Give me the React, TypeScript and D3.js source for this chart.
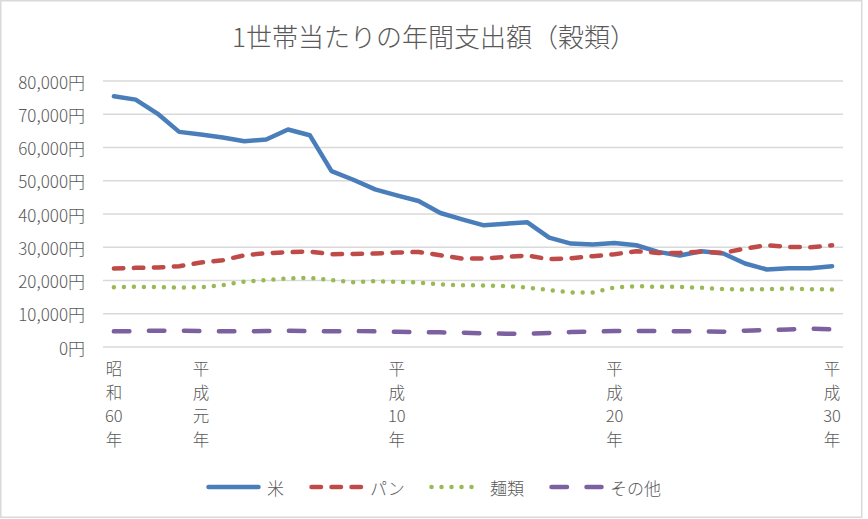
import React from "react";
import * as d3 from "d3";

const categories = [
  "昭和60年", "昭和61年", "昭和62年", "昭和63年", "平成元年", "平成2年", "平成3年", "平成4年",
  "平成5年", "平成6年", "平成7年", "平成8年", "平成9年", "平成10年", "平成11年", "平成12年",
  "平成13年", "平成14年", "平成15年", "平成16年", "平成17年", "平成18年", "平成19年", "平成20年",
  "平成21年", "平成22年", "平成23年", "平成24年", "平成25年", "平成26年", "平成27年", "平成28年",
  "平成29年", "平成30年",
];

const tickCategories = ["昭和60年", "平成元年", "平成10年", "平成20年", "平成30年"];

const riceValues = [
  75400, 74400, 70200, 64700, 63900, 63000, 61900, 62400, 65400, 63700, 52900, 50300,
  47400, 45600, 43900, 40300, 38400, 36600, 37100, 37500, 32900, 31100, 30800, 31300,
  30600, 28600, 27500, 28800, 28100, 25100, 23300, 23700, 23700, 24300,
];
const breadValues = [
  23600, 23800, 23900, 24300, 25400, 26100, 27600, 28200, 28500, 28700, 27900, 28000,
  28100, 28400, 28600, 27600, 26600, 26600, 27100, 27500, 26400, 26700, 27300, 27900,
  28800, 28300, 28300, 28700, 28300, 29600, 30600, 30100, 30000, 30600,
];
const noodleValues = [
  18000, 18100, 18000, 17900, 18000, 18600, 19700, 20100, 20600, 20800, 20100, 19500,
  19800, 19600, 19400, 18800, 18600, 18500, 18300, 17900, 17100, 16400, 16400, 17900,
  18300, 18100, 18100, 17800, 17400, 17300, 17400, 17600, 17400, 17300,
];
const otherValues = [
  4700, 4800, 4900, 4900, 4800, 4700, 4700, 4800, 4900, 4800, 4700, 4800,
  4700, 4600, 4500, 4400, 4300, 4100, 4000, 4000, 4200, 4500, 4600, 4800,
  4800, 4800, 4700, 4700, 4600, 4900, 5100, 5300, 5500, 5300,
];

const yTicks = [0, 10000, 20000, 30000, 40000, 50000, 60000, 70000, 80000];

const series = [
  { name: "米", values: riceValues, color: "#4A7EBB", dash: "none" },
  { name: "パン", values: breadValues, color: "#BE4B48", dash: "9.5 10.5" },
  { name: "麺類", values: noodleValues, color: "#98B954", dash: "0 10" },
  { name: "その他", values: otherValues, color: "#7D60A0", dash: "15.5 19.5" },
];

const W = 868;
const H = 519;
const FONT = "'Noto Sans CJK JP', 'Noto Sans', sans-serif";
const TEXT = "#595959";

// 昭和60年 -> 昭 / 和 / 60 / 年
const splitVertical = (s: string) => s.match(/[0-9]+|./g) || [];

export default function App() {
  const margin = { top: 81, right: 25, bottom: 172, left: 103 };

  const x = d3.scaleBand<string>()
    .domain(categories)
    .range([margin.left, W - margin.right]);
  const y = d3.scaleLinear()
    .domain([0, 80000])
    .range([H - margin.bottom, margin.top]);

  const line = d3.line<number>()
    .x((_, i) => x(categories[i])! + x.bandwidth() / 2)
    .y(d => y(d));

  const fmt = d3.format(",");

  // legend layout
  const legendLine = 55;
  const legendGap = 24;
  const legendFont = 17;
  const itemWidths = series.map(s => legendLine + 7 + s.name.length * legendFont);
  const legendTotal = d3.sum(itemWidths) + legendGap * (series.length - 1);
  let lx = W / 2 - legendTotal / 2;
  const legendItems = series.map((s, i) => {
    const item = { ...s, x: lx };
    lx += itemWidths[i] + legendGap;
    return item;
  });

  return (
    <>
      <style>{`body{margin:0}`}</style>
      <svg width={W} height={H} style={{ display: "block", fontFamily: FONT, fontWeight: 300 }}>
        <rect x={0} y={0} width={W} height={H} fill="#fff" />
        <rect x={0.75} y={0.75} width={861} height={516.5} fill="none" stroke="#d9d9d9" strokeWidth={1.5} />

        <text x={434} y={35} textAnchor="middle" dominantBaseline="central"
          fontSize={26} fill={TEXT}>1世帯当たりの年間支出額（穀類）</text>

        {yTicks.map(t => (
          <g key={t}>
            <line x1={margin.left} x2={W - margin.right} y1={y(t)} y2={y(t)}
              stroke="#d9d9d9" strokeWidth={1.5} />
            <text x={85} y={y(t)} textAnchor="end" dominantBaseline="central"
              fontSize={17} fill={TEXT}>{fmt(t)}円</text>
          </g>
        ))}

        {tickCategories.map(c => (
          <text key={c} fontSize={16.5} fill={TEXT} textAnchor="middle">
            {splitVertical(c).map((part, j) => (
              <tspan key={j} x={x(c)! + x.bandwidth() / 2} y={y(0) + 28 + j * 23.5}>{part}</tspan>
            ))}
          </text>
        ))}

        {series.map(s => (
          <path key={s.name} d={line(s.values)!} fill="none" stroke={s.color}
            strokeWidth={4.5} strokeDasharray={s.dash} strokeLinecap="round"
            strokeLinejoin="round" />
        ))}

        {legendItems.map(s => (
          <g key={s.name}>
            <line x1={s.x + 2.5} x2={s.x + legendLine - 2.5} y1={487} y2={487}
              stroke={s.color} strokeWidth={4.5} strokeDasharray={s.dash}
              strokeLinecap="round" />
            <text x={s.x + legendLine + 6} y={487} dominantBaseline="central"
              fontSize={legendFont} fill={TEXT}>{s.name}</text>
          </g>
        ))}
      </svg>
    </>
  );
}
